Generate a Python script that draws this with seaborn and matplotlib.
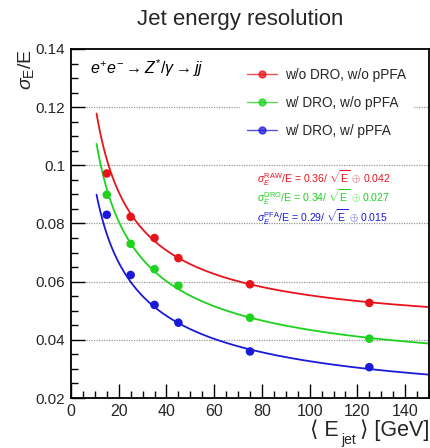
import numpy as np
import pandas as pd
import matplotlib
matplotlib.use("Agg")
import matplotlib.pyplot as plt
from matplotlib.lines import Line2D
from matplotlib.ticker import FixedLocator, FixedFormatter, MultipleLocator
import seaborn as sns

# ---- data ----
energies = [15, 25, 35, 45, 75, 125]
res_raw = [0.0972, 0.0823, 0.0750, 0.0681, 0.0591, 0.0527]
res_dro = [0.0899, 0.0730, 0.0643, 0.0586, 0.0476, 0.0404]
res_pfa = [0.0830, 0.0623, 0.0520, 0.0459, 0.0360, 0.0306]
series_labels = ["w/o DRO, w/o pPFA", "w/ DRO, w/o pPFA", "w/ DRO, w/ pPFA"]
fit_stoch = [0.36, 0.34, 0.29]
fit_const = [0.042, 0.027, 0.015]
fit_names = ["RAW", "DRO", "PFA"]
colors = ["#e8141c", "#1ed21e", "#1a1ad8"]
yticks = [0.02, 0.04, 0.06, 0.08, 0.1, 0.12, 0.14]
ytick_labels = ["0.02", "0.04", "0.06", "0.08", "0.1", "0.12", "0.14"]
xticks = [0, 20, 40, 60, 80, 100, 120, 140]

df = pd.DataFrame({
    "E": energies * 3,
    "res": res_raw + res_dro + res_pfa,
    "series": sum([[s] * len(energies) for s in series_labels], []),
})

sns.set_theme(style="white")
plt.rcParams["font.family"] = ["Liberation Sans", "DejaVu Sans"]
plt.rcParams["mathtext.fontset"] = "custom"
plt.rcParams["mathtext.rm"] = "Liberation Sans"
plt.rcParams["mathtext.it"] = "Liberation Sans:italic"
plt.rcParams["mathtext.sf"] = "Liberation Sans"

W, H = 431, 448
fig = plt.figure(figsize=(W / 100, H / 100), dpi=100)
ax = fig.add_axes([71 / W, 1 - 398 / H, 358 / W, 349 / H])

# grid
for y in [0.04, 0.06, 0.08, 0.1, 0.12]:
    ax.axhline(y, color="#999999", lw=0.9, ls=(0, (1, 1)), zorder=0)

# fit curves
Egrid = np.linspace(10.7, 150, 400)
for a, c, col in zip(fit_stoch, fit_const, colors):
    fit = np.sqrt((a / np.sqrt(Egrid)) ** 2 + c ** 2)
    sns.lineplot(x=Egrid, y=fit, ax=ax, color=col, lw=1.3, zorder=2)

sns.scatterplot(data=df, x="E", y="res", hue="series", palette=colors,
                hue_order=series_labels, s=38, edgecolor="none", ax=ax,
                legend=False, zorder=3)

ax.set_xlim(0, 150)
ax.set_ylim(0.02, 0.14)
ax.xaxis.set_major_locator(FixedLocator(xticks))
ax.xaxis.set_minor_locator(MultipleLocator(5))
ax.yaxis.set_major_locator(FixedLocator(yticks))
ax.yaxis.set_major_formatter(FixedFormatter(ytick_labels))
ax.yaxis.set_minor_locator(MultipleLocator(0.005))
ax.tick_params(which="both", direction="in", bottom=True, left=True,
               top=False, right=False, color="black", width=1)
ax.tick_params(axis="x", labelsize=11.5)
ax.tick_params(axis="y", labelsize=11)
ax.tick_params(which="major", length=10, pad=4)
ax.tick_params(which="minor", length=5)
ax.set_xlabel("")
ax.set_ylabel("")
for sp in ax.spines.values():
    sp.set_color("black")
    sp.set_linewidth(1.3)

# legend
handles = [Line2D([0], [0], color=col, lw=1.0, alpha=0.75, marker="o",
                  markersize=5, markerfacecolor=col, markeredgecolor=col)
           for col in colors]
leg = ax.legend(handles, series_labels, loc="upper left",
                bbox_to_anchor=((233 - 71) / 358, 1 - 5 / 349),
                fontsize=9.8, frameon=True, facecolor="white",
                edgecolor="white", framealpha=1, handlelength=2.2,
                handletextpad=0.6, labelspacing=1.05, borderpad=0.5)
leg.set_zorder(5)

# annotation
ax.text(8.0, 0.1335, r"$e^{+}e^{-} \rightarrow Z^{*}/\gamma \rightarrow jj$",
        fontsize=11.5, color="black", ha="left", va="center", style="italic")

# fit texts
fit_y = [0.0957, 0.0889, 0.0821]
for name, a, c, col, yy in zip(fit_names, fit_stoch, fit_const, colors, fit_y):
    ax.text(78, yy,
            r"$\sigma_E^{\rm %s}$/E = %.2f/ $\sqrt{\rm E}$ $\oplus$ %.3f" % (name, a, c),
            color=col, fontsize=7.6, ha="left", va="center")

# title and axis labels
fig.text(240 / W, 1 - 19 / H, "Jet energy resolution", fontsize=16,
         ha="center", va="center")
fig.text(26 / W, 1 - 49 / H, r"$\sigma_{\rm E}$/E", fontsize=14,
         rotation=90, ha="center", va="top")

# x label built from pieces, right to left
renderer = fig.canvas.get_renderer()
fam = ["Liberation Sans", "DejaVu Sans"]
t3 = fig.text(429 / W, 1 - 436 / H, "\u27e9 [GeV]", fontsize=15.5,
              ha="right", va="baseline", family=fam)
left3 = t3.get_window_extent(renderer).x0
t2 = fig.text((left3 - 3) / W, 1 - 444 / H, "jet", fontsize=10,
              ha="right", va="baseline", family=fam)
left2 = t2.get_window_extent(renderer).x0
t1 = fig.text((left2 - 3) / W, 1 - 436 / H, "\u27e8 E", fontsize=15.5,
              ha="right", va="baseline", family=fam)

fig.savefig("out.png", dpi=100)
